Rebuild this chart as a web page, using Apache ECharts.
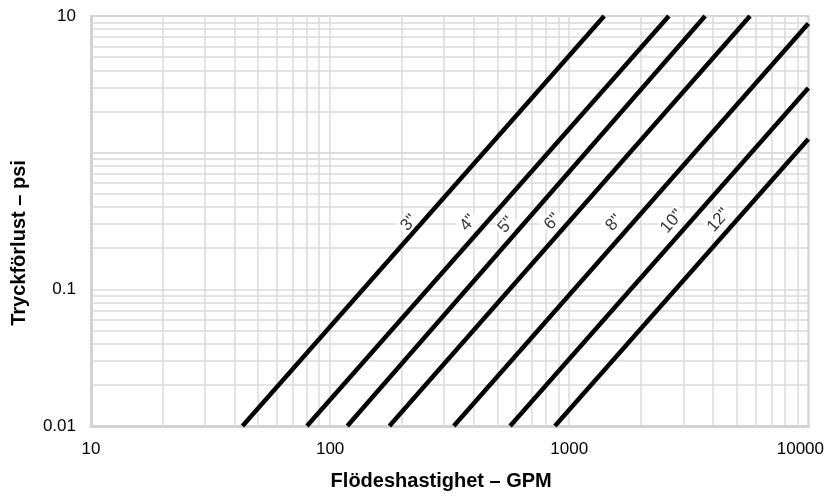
<!DOCTYPE html>
<html>
<head>
<meta charset="utf-8">
<script src="https://cdn.jsdelivr.net/npm/echarts@6/dist/echarts.min.js"></script>
<style>
  html, body { margin: 0; padding: 0; background: #fff; }
  #chart { width: 827px; height: 500px; }
</style>
</head>
<body>
<div id="chart"></div>
<script>
// Pipe sizes and the end points of each line (GPM, psi)
var pipeNames = ['3"', '4"', '5"', '6"', '8"', '10"', '12"'];
var pipeStartX = [43, 80, 118, 177, 329, 566, 871];
var pipeStartY = [0.01, 0.01, 0.01, 0.01, 0.01, 0.01, 0.01];
var pipeEndX = [1400, 2610, 3700, 5700, 10000, 10000, 10000];
var pipeEndY = [10, 10, 10, 10, 8.8, 2.97, 1.26];

// Label anchor points (GPM, psi)
var labelX = [214, 378, 545, 852, 1540, 2690, 4210];
var labelY = [0.306, 0.306, 0.296, 0.313, 0.306, 0.313, 0.32];

// Axis ticks and gridlines
var xTicks = [10, 100, 1000, 10000];
var yTicks = [0.01, 0.1, 10];
var xGrid = [20, 30, 40, 50, 60, 70, 80, 90, 200, 300, 400, 500, 600, 700, 800, 900, 2000, 3000, 4000, 5000, 6000, 7000, 8000, 9000];
var yGrid = [0.02, 0.03, 0.04, 0.05, 0.06, 0.07, 0.08, 0.09, 0.2, 0.3, 0.4, 0.5, 0.6, 0.7, 0.8, 0.9, 1, 2, 3, 4, 5, 6, 7, 8, 9];

var narrow = '"Liberation Sans Narrow", "Liberation Sans", sans-serif';
var bold = '"Liberation Sans", "DejaVu Sans", sans-serif';
var gridColor = '#dadada';
var axisColor = '#d2d2d2';

var series = [];
var markData = [];
xGrid.forEach(function (v) { markData.push({ xAxis: v }); });
yGrid.forEach(function (v) { markData.push({ yAxis: v }); });
series.push({
  name: 'grid',
  type: 'line',
  data: [[10, 0.01]],
  symbol: 'none',
  lineStyle: { opacity: 0 },
  silent: true,
  z: 1,
  markLine: {
    silent: true,
    z: 1,
    symbol: ['none', 'none'],
    label: { show: false },
    lineStyle: { color: gridColor, width: 1.5, type: 'solid' },
    animation: false,
    data: markData
  }
});

for (var i = 0; i < pipeNames.length; i++) {
  series.push({
    name: pipeNames[i],
    type: 'line',
    data: [[pipeStartX[i], pipeStartY[i]], [pipeEndX[i], pipeEndY[i]]],
    symbol: 'none',
    lineStyle: { color: '#000', width: 4.5 },
    z: 6,
    silent: true
  });
}

var labelData = [];
for (var j = 0; j < pipeNames.length; j++) {
  labelData.push({ value: [labelX[j], labelY[j]], name: pipeNames[j] });
}
series.push({
  name: 'labels',
  type: 'scatter',
  data: labelData,
  symbolSize: 0,
  z: 5,
  silent: true,
  label: {
    show: true,
    position: 'inside',
    rotate: 49,
    formatter: function (p) { return p.name; },
    color: '#000',
    fontFamily: narrow,
    fontSize: 17,
    backgroundColor: '#fff',
    padding: [1, 3, 0, 3]
  }
});

var chart = echarts.init(document.getElementById('chart'), null, { renderer: 'canvas' });
chart.setOption({
  animation: false,
  backgroundColor: '#fff',
  grid: {
    left: 91, right: 15, top: 16, bottom: 74,
    show: true, borderColor: axisColor, borderWidth: 2, backgroundColor: 'transparent'
  },
  xAxis: {
    type: 'log',
    logBase: 10,
    min: 10,
    max: 10000,
    name: 'Flödeshastighet – GPM',
    nameLocation: 'middle',
    nameGap: 45,
    nameTextStyle: { fontFamily: bold, fontWeight: 'bold', fontSize: 20, color: '#000', padding: [0, 17, 0, 0] },
    axisLine: { show: true, lineStyle: { color: axisColor, width: 3 } },
    axisTick: { show: false },
    splitLine: { show: true, lineStyle: { color: gridColor, width: 1.5 } },
    axisLabel: {
      margin: 15,
      fontFamily: narrow,
      fontSize: 17,
      color: '#000',
      formatter: function (v) {
        var r = Math.round(v);
        if (r === 10000) return '{r|10000}';
        return String(r);
      },
      rich: { r: { fontFamily: narrow, fontSize: 17, color: '#000', padding: [0, 16, 0, 0] } }
    }
  },
  yAxis: {
    type: 'log',
    logBase: 10,
    min: 0.01,
    max: 10,
    name: 'Tryckförlust – psi',
    nameLocation: 'middle',
    nameGap: 62,
    nameTextStyle: { fontFamily: bold, fontWeight: 'bold', fontSize: 20, color: '#000', padding: [0, 44, 0, 0] },
    axisLine: { show: true, lineStyle: { color: axisColor, width: 3 } },
    axisTick: { show: false },
    splitLine: { show: true, lineStyle: { color: gridColor, width: 1.5 } },
    axisLabel: {
      margin: 15,
      fontFamily: narrow,
      fontSize: 17,
      color: '#000',
      formatter: function (v) {
        for (var k = 0; k < yTicks.length; k++) {
          if (Math.abs(v - yTicks[k]) / yTicks[k] < 1e-6) return String(yTicks[k]);
        }
        return '';
      }
    }
  },
  series: series
});
</script>
</body>
</html>
